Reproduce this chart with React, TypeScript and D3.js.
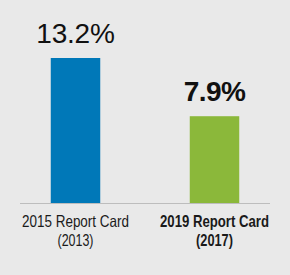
import React from "react";
import * as d3 from "d3";

const WIDTH = 290;
const HEIGHT = 275;

const categories = ["2015 Report Card", "2019 Report Card"];
const subLabels = ["(2013)", "(2017)"];
const values = [13.2, 7.9];
const valueLabels = ["13.2%", "7.9%"];
const colors = ["#0078b8", "#8bb83a"];
const bold = [false, true];

const BASELINE = 203;
const LABEL_FONT = "'Liberation Sans', Arial, sans-serif";

const App = () => {
  const xScale = d3
    .scaleBand<string>()
    .domain(categories)
    .range([6, 284])
    .paddingInner(0.644)
    .paddingOuter(0.322);

  const yScale = d3.scaleLinear().domain([0, 13.2]).range([BASELINE, 58]);

  return (
    <svg
      width={WIDTH}
      height={HEIGHT}
      style={{ position: "absolute", left: 0, top: 0, display: "block" }}
    >
      <rect width={WIDTH} height={HEIGHT} fill="#e9e9e9" />
      {categories.map((c, i) => {
        const x = xScale(c) ?? 0;
        const cx = x + xScale.bandwidth() / 2;
        const y = yScale(values[i]);
        return (
          <g key={c}>
            <rect
              x={x}
              y={y}
              width={xScale.bandwidth()}
              height={BASELINE - y}
              fill={colors[i]}
            />
            <text
              x={cx}
              y={y - 15}
              textAnchor="middle"
              fontFamily={LABEL_FONT}
              fontSize={28}
              fontWeight={bold[i] ? 700 : 400}
              letterSpacing={bold[i] ? -0.6 : -0.2}
              fill="#111"
            >
              {valueLabels[i]}
            </text>
            {/* condensed look: squeeze the category labels to the reference width */}
            <text
              x={cx}
              y={227}
              textAnchor="middle"
              fontFamily={LABEL_FONT}
              fontSize={16.5}
              fontWeight={bold[i] ? 700 : 400}
              textLength={bold[i] ? 109 : 107}
              lengthAdjust="spacingAndGlyphs"
              fill="#1a1a1a"
            >
              {c}
            </text>
            <text
              x={cx}
              y={246}
              textAnchor="middle"
              fontFamily={LABEL_FONT}
              fontSize={16.5}
              fontWeight={bold[i] ? 700 : 400}
              textLength={bold[i] ? 37 : 36}
              lengthAdjust="spacingAndGlyphs"
              fill="#1a1a1a"
            >
              {subLabels[i]}
            </text>
          </g>
        );
      })}
      <line x1={20} x2={270} y1={BASELINE + 0.5} y2={BASELINE + 0.5} stroke="#bdbdbd" strokeWidth={1.2} />
    </svg>
  );
};

export default App;
